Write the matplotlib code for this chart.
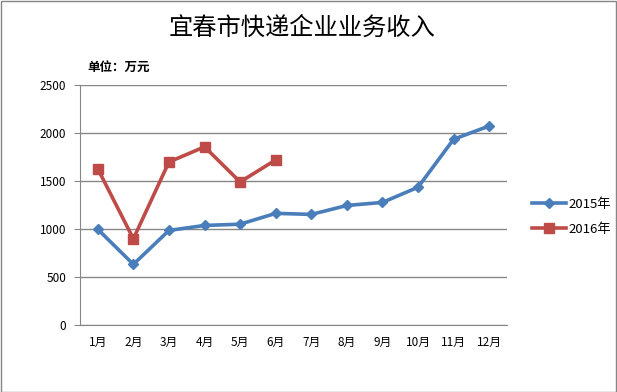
import matplotlib.pyplot as plt
from matplotlib.patches import Rectangle

plt.rcParams['font.family'] = ['Noto Sans CJK SC', 'DejaVu Sans']

months = ['1月', '2月', '3月', '4月', '5月', '6月', '7月', '8月', '9月', '10月', '11月', '12月']
income_2015 = [997, 632, 985, 1037, 1050, 1163, 1152, 1245, 1277, 1435, 1935, 2073]
income_2016 = [1627, 898, 1698, 1856, 1490, 1720]
y_ticks = [0, 500, 1000, 1500, 2000, 2500]

fig = plt.figure(figsize=(6.17, 3.92), dpi=100)
ax = fig.add_axes([80 / 617, 67 / 392, 427 / 617, 240 / 392])

x15 = list(range(len(income_2015)))
x16 = list(range(len(income_2016)))
ax.plot(x15, income_2015, color='#4a7ebb', linewidth=2.6, marker='D', markersize=5.5,
        label='2015年')
ax.plot(x16, income_2016, color='#be4b48', linewidth=2.6, marker='s', markersize=7,
        label='2016年')

ax.set_xlim(-0.5, 11.5)
ax.set_ylim(0, 2500)
ax.set_xticks(x15)
ax.set_xticklabels(months, fontsize=8.5)
ax.set_yticks(y_ticks)
ax.set_yticklabels([str(v) for v in y_ticks], fontsize=8.5)
ax.tick_params(axis='x', length=0, pad=8)
ax.tick_params(axis='y', length=4, color='#868686', pad=6)
ax.grid(axis='y', color='#868686', linewidth=1)
ax.set_axisbelow(True)
for side in ['top', 'right']:
    ax.spines[side].set_visible(False)
ax.spines['left'].set_color('#868686')
ax.spines['bottom'].set_color('#868686')

fig.text(0.49, 0.928, '宜春市快递企业业务收入', ha='center', va='center', fontsize=17.5)
fig.text(87 / 617, 1 - 67 / 392, '单位：万元', ha='left', va='center', fontsize=9,
         fontweight='bold')

ax.legend(loc='center left', bbox_to_anchor=(1.03, 0.45), frameon=False, fontsize=9.5,
          handlelength=2.6, handletextpad=0.2, labelspacing=0.9)

fig.patches.append(Rectangle((0.5 / 617, 0.5 / 392), 1 - 1.5 / 617, 1 - 1.5 / 392,
                             transform=fig.transFigure, fill=False,
                             edgecolor='#868686', linewidth=1))

fig.savefig('out.png', dpi=100)
